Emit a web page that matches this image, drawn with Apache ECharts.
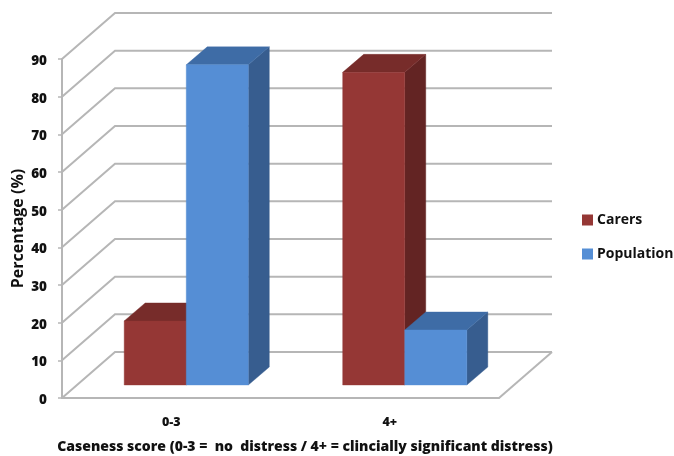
<!DOCTYPE html>
<html><head><meta charset="utf-8">
<style>html,body{margin:0;padding:0;background:#fff}#c{width:674px;height:456px}</style>
<script src="https://cdn.jsdelivr.net/npm/echarts@6/dist/echarts.min.js"></script>
</head><body><div id="c"></div>
<script>
const categories = ['0-3', '4+'];
const carers = [17, 83];
const population = [85, 14.6];
const gridTicks = [0, 10, 20, 30, 40, 50, 60, 70, 80, 90];

const FONT = '"Open Sans", sans-serif';
const wallDX = 53, wallDY = 46;
const baseDX = 15, baseDY = 13;
const depthDX = 21, depthDY = 18;
const barShare = 0.284;
const gridColor = '#b6b6b6';
const gridWidth = 2;

function wallItem(params, api) {
  const v = api.value(0);
  const p = api.coord([0, v]);
  const cs = params.coordSys;
  const x0 = cs.x, x1 = cs.x + cs.width, y = p[1];
  const pts = [[x0, y], [x0 + wallDX, y - wallDY], [x1 + wallDX, y - wallDY]];
  const children = [{ type: 'polyline', shape: { points: pts }, style: { fill: null, stroke: gridColor, lineWidth: gridWidth } }];
  if (v === 0) {
    children.push({ type: 'polyline', shape: { points: [[x1, y], [x1 + wallDX, y - wallDY]] }, style: { fill: null, stroke: gridColor, lineWidth: gridWidth } });
  }
  return { type: 'group', children };
}

function barRenderer(side, colors) {
  return function (params, api) {
    const cat = api.value(0), val = api.value(1);
    const c = api.coord([cat, val]), b = api.coord([cat, 0]);
    const w = api.size([1, 0])[0] * barShare;
    const cx = c[0] + baseDX;
    const xl = side < 0 ? cx - w : cx, xr = side < 0 ? cx : cx + w;
    const yt = c[1] - baseDY, yb = b[1] - baseDY;
    const poly = (points, fill) => ({ type: 'polygon', shape: { points }, style: { fill, stroke: fill, lineWidth: 0.4 } });
    return {
      type: 'group',
      children: [
        poly([[xr, yt], [xr + depthDX, yt - depthDY], [xr + depthDX, yb - depthDY], [xr, yb]], colors.side),
        poly([[xl, yt], [xl + depthDX, yt - depthDY], [xr + depthDX, yt - depthDY], [xr, yt]], colors.top),
        poly([[xl, yt], [xr, yt], [xr, yb], [xl, yb]], colors.front)
      ]
    };
  };
}

const red = { front: '#953735', top: '#772c2a', side: '#632423' };
const blue = { front: '#558ed5', top: '#3e6ca6', side: '#375d8f' };

const chart = echarts.init(document.getElementById('c'), null, { renderer: 'canvas' });
chart.setOption({
  animation: false,
  backgroundColor: '#fff',
  grid: { left: 62, right: 175, top: 59, bottom: 58, outerBoundsMode: 'none' },
  legend: {
    orient: 'vertical', left: 577, top: 208, itemWidth: 11, itemHeight: 11, itemGap: 20,
    data: [{ name: 'Carers', icon: 'rect' }, { name: 'Population', icon: 'rect' }],
    textStyle: { fontFamily: FONT, fontSize: 14, fontWeight: 700, color: '#111', padding: [0, 0, 0, -1] }
  },
  xAxis: {
    type: 'category', data: categories,
    axisLine: { show: true, lineStyle: { color: gridColor, width: gridWidth } },
    axisTick: { show: false },
    axisLabel: { fontFamily: FONT, fontSize: 12.5, fontWeight: 800, color: '#111', margin: 18 },
    name: 'Caseness score (0-3 =  no  distress / 4+ = clincially significant distress)',
    nameLocation: 'middle', nameGap: 42,
    nameTextStyle: { fontFamily: FONT, fontSize: 14, fontWeight: 800, color: '#111', padding: [0, 0, 0, 49] }
  },
  yAxis: {
    type: 'value', min: 0, max: 90, interval: 10,
    axisLine: { show: true, lineStyle: { color: gridColor, width: gridWidth } },
    axisTick: { show: true, length: 4, lineStyle: { color: gridColor, width: 1.5 } },
    splitLine: { show: false },
    axisLabel: {
      margin: 15, formatter: '{t|{value}}',
      rich: { t: { fontFamily: FONT, fontSize: 13.5, fontWeight: 800, color: '#111', padding: [4, 0, 0, 0] } }
    },
    name: 'Percentage (%)', nameLocation: 'middle', nameGap: 36, nameRotate: 90, nameMoveOverlap: false,
    nameTextStyle: { fontFamily: FONT, fontSize: 16, fontWeight: 700, color: '#111' }
  },
  series: [
    { type: 'custom', name: 'wall', silent: true, z: 1, renderItem: wallItem, encode: { y: 0 }, data: gridTicks.map(v => [v]) },
    { type: 'custom', name: 'Carers', z: 2, itemStyle: { color: red.front }, renderItem: barRenderer(-1, red), encode: { x: 0, y: 1 }, data: carers.map((v, i) => [i, v]) },
    { type: 'custom', name: 'Population', z: 3, itemStyle: { color: blue.front }, renderItem: barRenderer(1, blue), encode: { x: 0, y: 1 }, data: population.map((v, i) => [i, v]) }
  ]
});
</script></body></html>
